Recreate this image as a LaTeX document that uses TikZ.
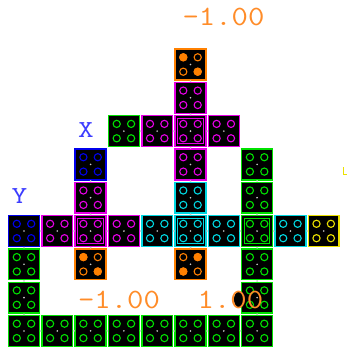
\documentclass[tikz,border=0pt]{standalone}
\usepackage{fontspec}
\usetikzlibrary{calc}
\definecolor{cOr}{RGB}{255,128,0}
\definecolor{cTx}{RGB}{255,140,40}
\definecolor{cMg}{RGB}{230,0,230}
\definecolor{cGr}{RGB}{0,225,0}
\definecolor{cCy}{RGB}{0,215,225}
\definecolor{cBl}{RGB}{0,0,235}
\definecolor{cYe}{RGB}{235,225,0}
\definecolor{cXY}{RGB}{60,60,255}
\definecolor{cDot}{RGB}{205,205,205}
\tikzset{
  blockbox/.style={shape=rectangle, draw=#1, fill=black, line width=1.4bp,
    minimum size=30.8bp, inner sep=0pt, outer sep=0pt},
  hole/.style={draw=#1, line width=1.1bp},
  conn/.style={fill=cDot},
  numlbl/.style={font=\ttfamily\fontsize{28}{28}\selectfont, text=cTx,
    inner sep=0pt, anchor=base, xscale=1.14, transform shape},
  axlbl/.style={font=\ttfamily\fontsize{24.5}{24.5}\selectfont, text=cXY,
    inner sep=0pt, anchor=base, xscale=1.25, transform shape}
}
\newcommand\blk[3]{%
  \node[blockbox=#3] (b#1-#2) at ({24+33.3*#1},{64.5+33.3*#2}) {};
  \foreach \sx/\sy in {-1/-1,1/-1,-1/1,1/1}
    \draw[hole=#3] ($(b#1-#2.center)+(7.2*\sx,7.2*\sy)$) circle (3.6bp);
  \fill[cDot] (b#1-#2.center) circle (0.9bp);
}
\newcommand\fhole[3]{\fill[cOr] ($(#1.center)+(7.2*#2,7.2*#3)$) circle (4.1bp);}
\newcommand\junc[3]{\draw[#3, line width=1bp] ([shift={(2.7,2.7)}]b#1-#2.north west) rectangle ([shift={(-2.7,-2.7)}]b#1-#2.south east);}
\newcommand\hc[2]{\fill[conn] ($(#1.east)!0.5!(#2.west)$) circle (1bp);}
\newcommand\vc[2]{\fill[conn] ($(#1.south)!0.5!(#2.north)$) circle (1bp);}
\begin{document}
\begin{tikzpicture}[x=1bp,y=-1bp]
\fill[white] (0,0) rectangle (355,349);
\useasboundingbox (0,0) rectangle (355,349);
% orange
\blk{5}{0}{cOr} \blk{2}{6}{cOr} \blk{5}{6}{cOr}
\fhole{b5-0}{-1}{-1} \fhole{b5-0}{1}{1}
\fhole{b2-6}{-1}{-1} \fhole{b2-6}{1}{1}
\fhole{b5-6}{1}{-1} \fhole{b5-6}{-1}{1}
% magenta
\blk{5}{1}{cMg} \blk{4}{2}{cMg} \blk{5}{2}{cMg} \blk{6}{2}{cMg}
\blk{5}{3}{cMg} \blk{2}{4}{cMg} \blk{1}{5}{cMg} \blk{2}{5}{cMg} \blk{3}{5}{cMg}
% green
\blk{3}{2}{cGr} \blk{7}{3}{cGr} \blk{7}{4}{cGr} \blk{7}{5}{cGr}
\blk{0}{6}{cGr} \blk{7}{6}{cGr} \blk{0}{7}{cGr} \blk{7}{7}{cGr}
\foreach \c in {0,...,7} {\blk{\c}{8}{cGr}}
% blue
\blk{2}{3}{cBl} \blk{0}{5}{cBl}
% cyan
\blk{5}{4}{cCy} \blk{4}{5}{cCy} \blk{5}{5}{cCy} \blk{6}{5}{cCy} \blk{8}{5}{cCy}
% yellow
\blk{9}{5}{cYe}
% junctions
\junc{5}{2}{cMg} \junc{2}{5}{cMg} \junc{5}{5}{cCy} \junc{7}{5}{cGr}
% connectors
\vc{b5-0}{b5-1} \vc{b5-1}{b5-2} \vc{b5-2}{b5-3} \vc{b5-3}{b5-4} \vc{b5-4}{b5-5} \vc{b5-5}{b5-6}
\hc{b3-2}{b4-2} \hc{b4-2}{b5-2} \hc{b5-2}{b6-2}
\vc{b2-3}{b2-4} \vc{b2-4}{b2-5} \vc{b2-5}{b2-6}
\vc{b7-3}{b7-4} \vc{b7-4}{b7-5} \vc{b7-5}{b7-6} \vc{b7-6}{b7-7} \vc{b7-7}{b7-8}
\vc{b0-5}{b0-6} \vc{b0-6}{b0-7} \vc{b0-7}{b0-8}
\hc{b0-5}{b1-5} \hc{b1-5}{b2-5} \hc{b2-5}{b3-5} \hc{b3-5}{b4-5} \hc{b4-5}{b5-5}
\hc{b5-5}{b6-5} \hc{b6-5}{b7-5} \hc{b7-5}{b8-5} \hc{b8-5}{b9-5}
\hc{b0-8}{b1-8} \hc{b1-8}{b2-8} \hc{b2-8}{b3-8} \hc{b3-8}{b4-8} \hc{b4-8}{b5-8}
\hc{b5-8}{b6-8} \hc{b6-8}{b7-8}
% labels
\fill[black] (238.9,299.4) ellipse (5bp and 8bp);
\node[numlbl] (ttop) at (223.5,25) {-1.00};
\node[numlbl] (tleft) at (119,308) {-1.00};
\node[numlbl] (tright) at (230.5,308) {1.00};
\node[axlbl] (lx) at (86,137) {X};
\node[axlbl] (ly) at (19.5,203) {Y};
\draw[cYe, line width=1.3bp] (343.8,167) -- (343.8,174.8) -- (347.2,174.8);
\end{tikzpicture}
\end{document}
